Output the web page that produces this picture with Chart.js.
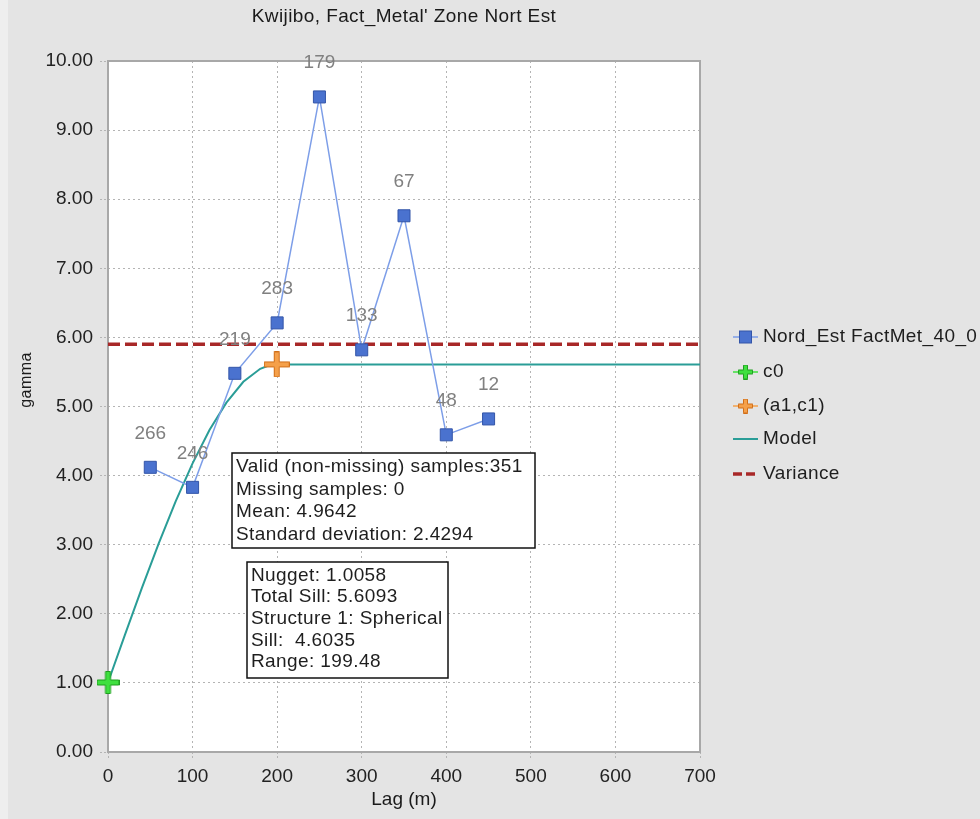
<!DOCTYPE html>
<html>
<head>
<meta charset="utf-8">
<script src="https://cdn.jsdelivr.net/npm/chart.js@4/dist/chart.umd.min.js"></script>
<style>
  html, body { margin: 0; padding: 0; background: #e4e4e4; }
  #c { display: block; }
</style>
</head>
<body>
<canvas id="c" width="980" height="819"></canvas>
<script>
// ---------- data ----------
const chartTitle = "Kwijibo, Fact_Metal' Zone Nort Est";
const xTitle = "Lag (m)";
const yTitle = "gamma";
const seriesLabels = ["Nord_Est FactMet_40_0", "c0", "(a1,c1)", "Model", "Variance"];

const lags = [50, 100, 150, 200, 250, 300, 350, 400, 450];
const gammaVals = [4.12, 3.83, 5.48, 6.21, 9.48, 5.82, 7.76, 4.59, 4.82];
const pairCounts = [266, 246, 219, 283, 179, 133, 67, 48, 12];

const nuggetPoint = [0, 1.0058];
const sillPoint = [199.48, 5.6093];

const modelLag = [0, 20, 40, 60, 80, 100, 120, 140, 160, 180, 190, 199.48, 700];
const modelGamma = [1.006, 1.696, 2.372, 3.020, 3.627, 4.177, 4.659, 5.056, 5.357, 5.546, 5.594, 5.609, 5.609];

const varianceLag = [0, 700];
const varianceVal = [5.902, 5.902];

const statsLines = ["Valid (non-missing) samples:351", "Missing samples: 0", "Mean: 4.9642", "Standard deviation: 2.4294"];
const modelLines = ["Nugget: 1.0058", "Total Sill: 5.6093", "Structure 1: Spherical", "Sill:  4.6035", "Range: 199.48"];

const xTicks = [0, 100, 200, 300, 400, 500, 600, 700];
const yTicks = [0, 1, 2, 3, 4, 5, 6, 7, 8, 9, 10];

// ---------- helpers ----------
const FONT = "'Liberation Sans', Arial, sans-serif";
const toXY = (xs, ys) => xs.map((x, i) => ({ x: x, y: ys[i] }));

function plusCanvas(fill, stroke, size, arm) {
  const c = document.createElement('canvas');
  c.width = size; c.height = size;
  const g = c.getContext('2d');
  const m = size / 2, h = arm / 2, e0 = 0.5, e1 = size - 0.5;
  g.beginPath();
  g.moveTo(m - h, e0); g.lineTo(m + h, e0); g.lineTo(m + h, m - h);
  g.lineTo(e1, m - h); g.lineTo(e1, m + h); g.lineTo(m + h, m + h);
  g.lineTo(m + h, e1); g.lineTo(m - h, e1); g.lineTo(m - h, m + h);
  g.lineTo(e0, m + h); g.lineTo(e0, m - h); g.lineTo(m - h, m - h);
  g.closePath();
  g.fillStyle = fill; g.fill();
  g.strokeStyle = stroke; g.lineWidth = 1; g.stroke();
  return c;
}

const COLORS = {
  dataLine: '#7d9ee8', dataFill: '#4a72cf', dataBorder: '#3355a8',
  green: '#3fe03f', greenB: '#1f9e1f',
  orange: '#f5a04a', orangeB: '#d06e18',
  model: '#2a9d97', variance: '#a82828'
};

const greenPlus = plusCanvas(COLORS.green, COLORS.greenB, 23, 5);
const orangePlus = plusCanvas(COLORS.orange, COLORS.orangeB, 26, 5);
const greenPlusSmall = plusCanvas(COLORS.green, COLORS.greenB, 15, 4);
const orangePlusSmall = plusCanvas(COLORS.orange, COLORS.orangeB, 15, 4);

// ---------- plugin: background, border, labels, boxes, legend, titles ----------
const decor = {
  id: 'decor',
  beforeDraw(chart) {
    const { ctx, chartArea: a } = chart;
    ctx.save();
    ctx.fillStyle = '#e4e4e4';
    ctx.fillRect(0, 0, chart.width, chart.height);
    ctx.fillStyle = '#eeeeee';
    ctx.fillRect(0, 0, 8, chart.height);
    ctx.fillStyle = '#ffffff';
    ctx.fillRect(a.left, a.top, a.right - a.left, a.bottom - a.top);
    ctx.restore();
  },
  beforeDatasetsDraw(chart) {
    const { ctx, chartArea: a } = chart;
    ctx.save();
    ctx.strokeStyle = '#a8a8a8';
    ctx.lineWidth = 2;
    ctx.strokeRect(a.left, a.top, a.right - a.left, a.bottom - a.top);
    ctx.restore();
  },
  afterDatasetsDraw(chart) {
    const { ctx } = chart;
    const xs = chart.scales.x, ys = chart.scales.y;
    ctx.save();
    // pair count labels
    ctx.font = '19px ' + FONT;
    ctx.fillStyle = '#808080';
    ctx.textAlign = 'center';
    ctx.textBaseline = 'middle';
    pairCounts.forEach((n, i) => {
      ctx.fillText(String(n), xs.getPixelForValue(lags[i]), ys.getPixelForValue(gammaVals[i]) - 34);
    });
    // text boxes
    function box(x0, y0, x1, y1, lines, tx, tys) {
      ctx.fillStyle = '#ffffff';
      ctx.fillRect(x0, y0, x1 - x0, y1 - y0);
      ctx.strokeStyle = '#111111';
      ctx.lineWidth = 1.5;
      ctx.strokeRect(x0, y0, x1 - x0, y1 - y0);
      ctx.fillStyle = '#1e1e1e';
      ctx.textAlign = 'left';
      ctx.textBaseline = 'middle';
      ctx.font = '19px ' + FONT;
      if ('letterSpacing' in ctx) ctx.letterSpacing = '0.4px';
      lines.forEach((t, i) => ctx.fillText(t, tx, tys[i]));
      if ('letterSpacing' in ctx) ctx.letterSpacing = '0px';
    }
    box(232, 453, 535, 548, statsLines, 236, [467, 490, 512, 535]);
    box(247, 562, 448, 678, modelLines, 251, [576, 597, 619, 641, 662]);
    ctx.restore();
  },
  afterDraw(chart) {
    const { ctx, chartArea: a } = chart;
    ctx.save();
    if ('letterSpacing' in ctx) ctx.letterSpacing = '0.4px';
    // title
    ctx.font = '19px ' + FONT;
    ctx.fillStyle = '#1a1a1a';
    ctx.textAlign = 'center';
    ctx.textBaseline = 'middle';
    ctx.fillText(chartTitle, (a.left + a.right) / 2, 17);
    // y title
    ctx.save();
    ctx.translate(27, 380);
    ctx.rotate(-Math.PI / 2);
    ctx.font = '16px ' + FONT;
    ctx.fillText(yTitle, 0, 0);
    ctx.restore();
    // legend
    const lx0 = 733, lx1 = 758, tx = 763;
    const ly = [337, 372, 406, 439, 474];
    ctx.textAlign = 'left';
    ctx.font = '19px ' + FONT;
    ly.forEach((y, i) => {
      ctx.save();
      ctx.beginPath();
      if (i === 0) { ctx.strokeStyle = COLORS.dataLine; ctx.lineWidth = 1.5; }
      if (i === 1) { ctx.strokeStyle = COLORS.green; ctx.lineWidth = 1.5; }
      if (i === 2) { ctx.strokeStyle = COLORS.orange; ctx.lineWidth = 1.5; }
      if (i === 3) { ctx.strokeStyle = COLORS.model; ctx.lineWidth = 2; }
      if (i === 4) { ctx.strokeStyle = COLORS.variance; ctx.lineWidth = 3.5; ctx.setLineDash([9, 4]); }
      ctx.moveTo(lx0, y); ctx.lineTo(lx1, y); ctx.stroke();
      ctx.restore();
      const mx = (lx0 + lx1) / 2;
      if (i === 0) {
        ctx.fillStyle = COLORS.dataFill; ctx.fillRect(mx - 6, y - 6, 12, 12);
        ctx.strokeStyle = COLORS.dataBorder; ctx.lineWidth = 1; ctx.strokeRect(mx - 6, y - 6, 12, 12);
      }
      if (i === 1) ctx.drawImage(greenPlusSmall, mx - 7.5, y - 7.5);
      if (i === 2) ctx.drawImage(orangePlusSmall, mx - 7.5, y - 7.5);
      ctx.fillStyle = '#1e1e1e';
      ctx.fillText(seriesLabels[i], tx, y);
    });
    ctx.restore();
  }
};

// ---------- chart ----------
new Chart(document.getElementById('c'), {
  type: 'scatter',
  data: {
    datasets: [
      {
        label: seriesLabels[0],
        data: toXY(lags, gammaVals),
        showLine: true,
        borderColor: COLORS.dataLine,
        borderWidth: 1.5,
        pointStyle: 'rect',
        pointRadius: 8.5,
        pointHoverRadius: 8.5,
        pointBackgroundColor: COLORS.dataFill,
        pointBorderColor: COLORS.dataBorder,
        pointBorderWidth: 1,
        order: 1
      },
      {
        label: seriesLabels[1],
        data: [{ x: nuggetPoint[0], y: nuggetPoint[1] }],
        pointStyle: greenPlus,
        clip: false,
        order: 0
      },
      {
        label: seriesLabels[2],
        data: [{ x: sillPoint[0], y: sillPoint[1] }],
        pointStyle: orangePlus,
        clip: false,
        order: 0
      },
      {
        label: seriesLabels[3],
        data: toXY(modelLag, modelGamma),
        showLine: true,
        borderColor: COLORS.model,
        borderWidth: 2,
        pointRadius: 0,
        pointHoverRadius: 0,
        order: 2
      },
      {
        label: seriesLabels[4],
        data: toXY(varianceLag, varianceVal),
        showLine: true,
        borderColor: COLORS.variance,
        borderWidth: 3.5,
        borderDash: [12, 5],
        pointRadius: 0,
        pointHoverRadius: 0,
        order: 3
      }
    ]
  },
  options: {
    responsive: false,
    animation: false,
    devicePixelRatio: 1,
    layout: { padding: { top: 61, right: 280, left: 0, bottom: 0 } },
    plugins: {
      legend: { display: false },
      title: { display: false },
      tooltip: { enabled: false }
    },
    scales: {
      x: {
        type: 'linear',
        min: 0, max: 700,
        afterFit: s => { s.height = 67; },
        afterBuildTicks: s => { s.ticks = xTicks.map(v => ({ value: v })); },
        ticks: { font: { family: FONT, size: 19 }, color: '#222222', padding: 5, maxRotation: 0, autoSkip: false },
        grid: { color: '#b4b4b4', lineWidth: 1, tickLength: 8, tickColor: '#b4b4b4', tickBorderDash: [2, 2] },
        border: { display: false, dash: [2, 3] },
        title: { display: true, text: xTitle, font: { family: FONT, size: 19 }, color: '#1a1a1a', padding: { top: 0, bottom: 8 } }
      },
      y: {
        type: 'linear',
        min: 0, max: 10,
        afterFit: s => { s.width = 108; },
        afterBuildTicks: s => { s.ticks = yTicks.map(v => ({ value: v })); },
        ticks: { font: { family: FONT, size: 19 }, color: '#222222', padding: 7, callback: v => Number(v).toFixed(2), autoSkip: false },
        grid: { color: '#b4b4b4', lineWidth: 1, tickLength: 8, tickColor: '#b4b4b4', tickBorderDash: [2, 2] },
        border: { display: false, dash: [2, 3] },
        title: { display: false }
      }
    }
  },
  plugins: [decor]
});
</script>
</body>
</html>
